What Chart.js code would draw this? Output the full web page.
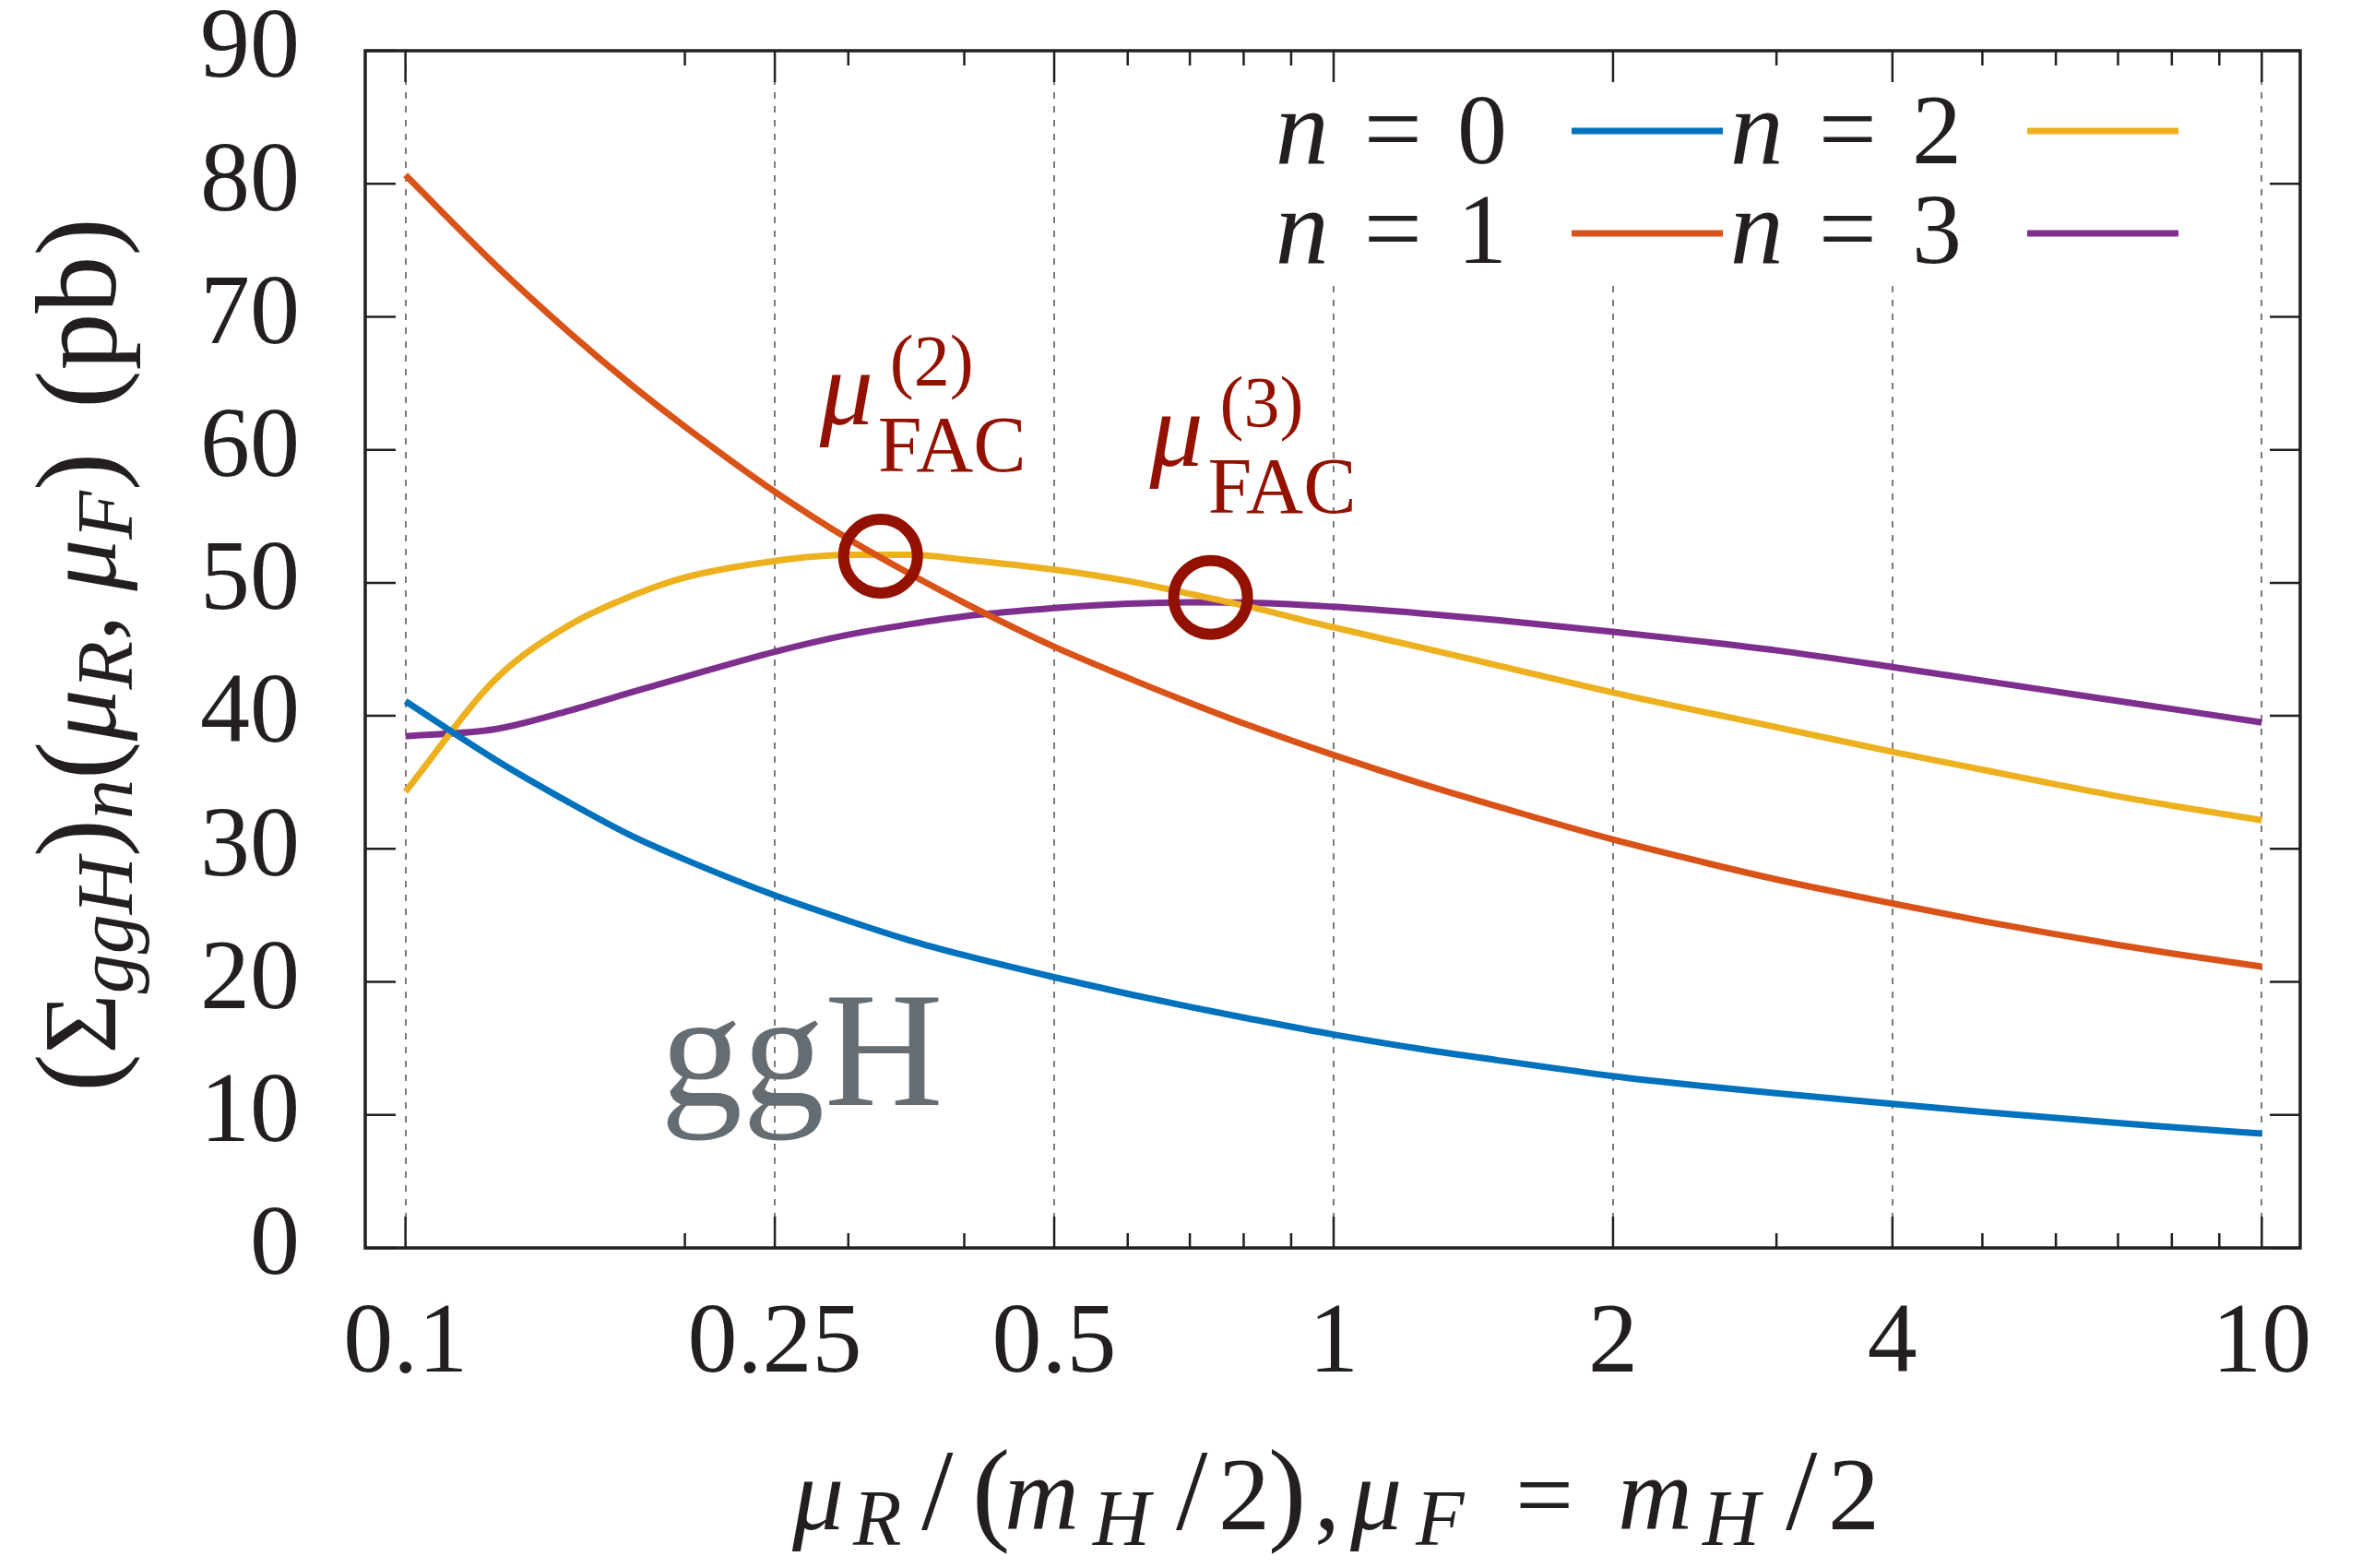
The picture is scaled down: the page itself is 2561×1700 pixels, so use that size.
<!DOCTYPE html>
<html>
<head>
<meta charset="utf-8">
<script src="https://cdn.jsdelivr.net/npm/chart.js@4.4.1/dist/chart.umd.min.js"></script>
<style>
html, body { margin: 0; padding: 0; background: #fff; }
#contenedor { width: 2561px; height: 1700px; position: relative; }
</style>
</head>
<body>
<div id="contenedor"><canvas id="grafica"></canvas></div>
<script>
// escala mu_R/(m_H/2) y valores (pb)
const escalas = [0.1, 0.125, 0.15, 0.175, 0.2, 0.25, 0.3, 0.35, 0.4, 0.5, 0.6, 0.7, 0.8, 1, 1.25, 1.5, 2, 2.5, 3, 4, 5, 6, 7, 8, 10];
const n0 = [41.1, 36.7, 33.5, 31.0, 29.2, 26.5, 24.6, 23.1, 22.0, 20.35, 19.1, 18.12, 17.32, 16.04, 14.92, 14.12, 12.92, 12.17, 11.63, 10.84, 10.23, 9.77, 9.4, 9.08, 8.6];
const n1 = [80.65, 73.9, 68.85, 64.9, 61.75, 56.85, 53.3, 50.65, 48.5, 45.2, 42.86, 40.98, 39.43, 37.05, 34.85, 33.2, 30.7, 29.0, 27.7, 25.9, 24.57, 23.58, 22.78, 22.14, 21.15];
const n2 = [34.3, 42.74, 46.8, 49.0, 50.4, 51.64, 52.1, 52.1, 51.75, 51.0, 50.14, 49.17, 48.3, 46.65, 45.1, 43.8, 41.75, 40.3, 39.15, 37.3, 35.95, 34.85, 33.95, 33.25, 32.15];
const n3 = [38.47, 39.0, 40.38, 41.77, 42.93, 44.82, 46.1, 46.9, 47.48, 48.1, 48.43, 48.54, 48.52, 48.2, 47.69, 47.2, 46.32, 45.58, 44.92, 43.67, 42.65, 41.82, 41.12, 40.52, 39.5];

// puntos FAC
const escalasFAC = [0.325, 0.737];
const valoresFAC = [52.0, 48.9];
const ordenFAC = ['(2)', '(3)'];

const ticksMayores = [0.1, 0.25, 0.5, 1, 2, 4, 10];
const ticksMenores = [0.2, 0.3, 0.4, 0.6, 0.7, 0.8, 0.9, 3, 5, 6, 7, 8, 9];
const ticksY = [0, 10, 20, 30, 40, 50, 60, 70, 80, 90];

const colores = ['#0072BD', '#D95319', '#EDB120', '#7E2F8E'];
const series = [n0, n1, n2, n3];
const tinta = '#231f20';
const rojoFAC = '#921100';
const serif = '"Liberation Serif", "DejaVu Serif", serif';

function fuente(p) {
    return (p.it ? 'italic ' : '') + p.s + 'px ' + serif;
}

// texto con subindices; si una parte trae x se coloca en esa posicion relativa
function textoRico(ctx, partes, x, y, alinear, anchoFijo) {
    let ancho = 0;
    partes.forEach(p => {
        if (p.gap) { p.w = p.gap; }
        else { ctx.font = fuente(p); p.w = ctx.measureText(p.t).width; }
        ancho += p.w;
    });
    if (anchoFijo) ancho = anchoFijo;
    let inicio = x;
    if (alinear === 'center') inicio = x - ancho / 2;
    if (alinear === 'right') inicio = x - ancho;
    let cx = inicio;
    partes.forEach(p => {
        if (p.x !== undefined) cx = inicio + p.x;
        if (!p.gap) {
            ctx.font = fuente(p);
            ctx.fillText(p.t, cx, y + (p.dy || 0));
        }
        cx += p.w;
    });
}

const extras = {
    id: 'extras',
    beforeDatasetsDraw(chart) {
        const ctx = chart.ctx;
        // fondo de la leyenda tapa la rejilla
        ctx.save();
        ctx.fillStyle = '#fff';
        ctx.fillRect(1340, 58, 1100, 250);
        ctx.restore();
    },
    afterDatasetsDraw(chart) {
        const { ctx, chartArea: a, scales: { x, y } } = chart;
        ctx.save();
        ctx.textAlign = 'left';
        ctx.textBaseline = 'alphabetic';
        ctx.strokeStyle = tinta;
        ctx.lineWidth = 2.5;
        ctx.beginPath();
        ticksMayores.forEach(v => {
            const px = x.getPixelForValue(v);
            ctx.moveTo(px, a.bottom); ctx.lineTo(px, a.bottom - 34);
            ctx.moveTo(px, a.top); ctx.lineTo(px, a.top + 34);
        });
        ticksMenores.forEach(v => {
            const px = x.getPixelForValue(v);
            ctx.moveTo(px, a.bottom); ctx.lineTo(px, a.bottom - 16);
            ctx.moveTo(px, a.top); ctx.lineTo(px, a.top + 16);
        });
        ticksY.forEach(v => {
            const py = y.getPixelForValue(v);
            ctx.moveTo(a.left, py); ctx.lineTo(a.left + 33, py);
            ctx.moveTo(a.right, py); ctx.lineTo(a.right - 33, py);
        });
        ctx.stroke();
        ctx.lineWidth = 3.5;
        ctx.strokeRect(a.left, a.top, a.right - a.left, a.bottom - a.top);

        // leyenda en dos columnas: texto y despues la linea
        const finTexto = [1634, 2127];
        const lineaX = [[1704, 1868], [2198, 2362]];
        const base = [177, 285];
        const lineaY = [142, 253];
        chart.data.datasets.forEach((ds, i) => {
            if (i > 3) return;
            const col = Math.floor(i / 2), fila = i % 2;
            ctx.fillStyle = tinta;
            textoRico(ctx, [
                { t: 'n', s: 116, it: true }, { gap: 38 },
                { t: '=', s: 112 }, { gap: 38 },
                { t: String(i), s: 108 }
            ], finTexto[col], base[fila], 'right');
            ctx.strokeStyle = ds.borderColor;
            ctx.lineWidth = 7;
            ctx.beginPath();
            ctx.moveTo(lineaX[col][0], lineaY[fila]);
            ctx.lineTo(lineaX[col][1], lineaY[fila]);
            ctx.stroke();
        });

        // etiquetas mu_FAC
        ctx.fillStyle = rojoFAC;
        escalasFAC.forEach((v, i) => {
            const cx = x.getPixelForValue(v), cy = y.getPixelForValue(valoresFAC[i]);
            ctx.font = 'italic 116px ' + serif;
            ctx.fillText('μ', cx - 66, cy - 143);
            ctx.font = '86px ' + serif;
            ctx.fillText('FAC', cx - 3, cy - 92);
            ctx.font = '78px ' + serif;
            ctx.fillText(ordenFAC[i], cx + 10, cy - 186);
        });

        // ggH
        ctx.fillStyle = '#656d72';
        ctx.font = '178px ' + serif;
        ctx.fillText('ggH', 716, 1198);

        // titulo eje x
        ctx.fillStyle = tinta;
        textoRico(ctx, [
            { t: 'μ', s: 112, it: true, x: 0 }, { t: 'R', s: 86, it: true, dy: 17, x: 66 },
            { t: '/', s: 124, x: 140 }, { t: '(', s: 124, x: 195 },
            { t: 'm', s: 112, it: true, x: 230 }, { t: 'H', s: 86, it: true, dy: 17, x: 326 },
            { t: '/', s: 124, x: 416 }, { t: '2', s: 112, x: 462 }, { t: ')', s: 124, x: 516 },
            { t: ',', s: 112, x: 566 },
            { t: 'μ', s: 112, it: true, x: 605 }, { t: 'F', s: 86, it: true, dy: 17, x: 676 },
            { t: '=', s: 112, x: 784 },
            { t: 'm', s: 112, it: true, x: 895 }, { t: 'H', s: 86, it: true, dy: 17, x: 987 },
            { t: '/', s: 124, x: 1077 }, { t: '2', s: 112, x: 1123 }
        ], (a.left + a.right) / 2, 1658, 'center', 1172);

        // titulo eje y
        ctx.translate(125, (a.top + a.bottom) / 2 + 6);
        ctx.rotate(-Math.PI / 2);
        textoRico(ctx, [
            { t: '(', s: 124 }, { t: 'Σ', s: 112 }, { t: 'ggH', s: 86, it: true, dy: 18 },
            { t: ')', s: 124 }, { t: 'n', s: 86, it: true, dy: 18 },
            { t: '(', s: 124 }, { t: 'μ', s: 112, it: true }, { t: 'R', s: 86, it: true, dy: 18 },
            { t: ',', s: 112 }, { gap: 26 }, { t: 'μ', s: 112, it: true },
            { t: 'F', s: 86, it: true, dy: 18 }, { t: ')', s: 124 }, { gap: 48 },
            { t: '(pb)', s: 124 }
        ], 0, 0, 'center');
        ctx.restore();
    }
};

const datasets = series.map((s, i) => ({
    label: 'n = ' + i,
    data: escalas.map((e, j) => ({ x: e, y: s[j] })),
    borderColor: colores[i],
    borderWidth: 7,
    pointRadius: 0,
    fill: false,
    cubicInterpolationMode: 'monotone',
    order: 2
}));
datasets.push({
    label: 'FAC',
    data: escalasFAC.map((e, j) => ({ x: e, y: valoresFAC[j] })),
    showLine: false,
    pointStyle: 'circle',
    pointRadius: 40,
    pointBorderWidth: 12,
    pointBorderColor: rojoFAC,
    pointBackgroundColor: 'rgba(0,0,0,0)',
    order: 1
});

const ctx = document.getElementById('grafica').getContext('2d');
const grafica = new Chart(ctx, {
    type: 'line',
    data: { datasets: datasets },
    options: {
        responsive: true,
        maintainAspectRatio: false,
        devicePixelRatio: 1,
        animation: false,
        layout: { padding: { top: 55, right: 67, left: 0, bottom: 0 } },
        plugins: { legend: { display: false }, tooltip: { enabled: false } },
        scales: {
            x: {
                type: 'logarithmic',
                min: 0.0905,
                max: 11,
                afterBuildTicks: (scale) => { scale.ticks = ticksMayores.map(v => ({ value: v })); },
                afterFit: (scale) => { scale.height = 347; scale.paddingLeft = 0; scale.paddingRight = 0; },
                grid: { color: '#7a7a7a', lineWidth: 2, drawTicks: false },
                border: { display: false, dash: [7, 8] },
                ticks: {
                    autoSkip: false,
                    maxRotation: 0,
                    padding: 52,
                    color: tinta,
                    font: { family: serif, size: 108, lineHeight: 1 },
                    callback: (v) => String(v)
                }
            },
            y: {
                min: 0,
                max: 90,
                afterFit: (scale) => { scale.width = 396; scale.paddingTop = 0; scale.paddingBottom = 0; },
                grid: { display: false, drawTicks: false },
                border: { display: false },
                ticks: {
                    stepSize: 10,
                    padding: 71,
                    color: tinta,
                    font: { family: serif, size: 108, lineHeight: 1 }
                }
            }
        }
    },
    plugins: [extras]
});
</script>
</body>
</html>
